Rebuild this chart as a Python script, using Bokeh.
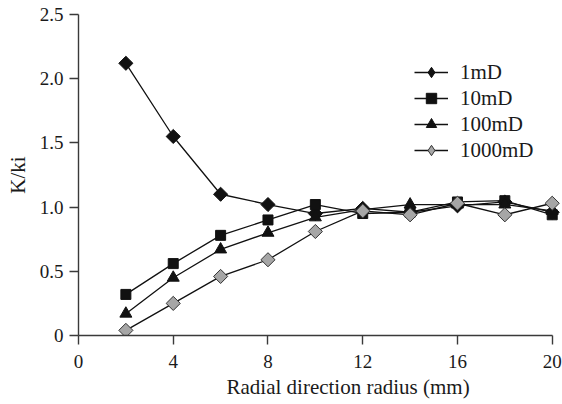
import numpy as np
from bokeh.plotting import figure
from bokeh.models import Range1d, FixedTicker, CustomJSTickFormatter, Legend, LegendItem, Title
from bokeh.embed import file_html
from bokeh.resources import INLINE

radius = [2, 4, 6, 8, 10, 12, 14, 16, 18, 20]
k_1md = [2.12, 1.55, 1.10, 1.02, 0.95, 0.99, 0.96, 1.01, 1.04, 0.96]
k_10md = [0.32, 0.56, 0.78, 0.90, 1.02, 0.95, 0.96, 1.04, 1.05, 0.94]
k_100md = [0.17, 0.45, 0.67, 0.80, 0.92, 0.98, 1.02, 1.02, 1.02, 0.97]
k_1000md = [0.04, 0.25, 0.46, 0.59, 0.81, 0.97, 0.94, 1.03, 0.94, 1.03]
series_names = ["1mD", "10mD", "100mD", "1000mD"]
x_ticks = [0, 4, 8, 12, 16, 20]
y_ticks = [0, 0.5, 1.0, 1.5, 2.0, 2.5]
x_title = "Radial direction radius (mm)"
y_title = "K/ki"

FONT = "Liberation Serif"
TXT = "#1a1a1a"
AX = "#3a3a3a"

p = figure(width=562, height=404, output_backend="svg", toolbar_location=None,
           x_range=Range1d(0, 20.35), y_range=Range1d(0, 2.5),
           min_border_left=78, min_border_right=2, min_border_top=14, min_border_bottom=69)
p.outline_line_color = None
p.xgrid.visible = False
p.ygrid.visible = False

for ax in (p.xaxis[0], p.yaxis[0]):
    ax.major_label_text_font = FONT
    ax.major_label_text_font_size = "19px"
    ax.major_label_text_color = TXT
    ax.axis_line_color = AX
    ax.axis_line_width = 1.4
    ax.major_tick_line_color = AX
    ax.major_tick_line_width = 1.4
    ax.major_tick_out = 9
    ax.major_tick_in = 0
    ax.minor_tick_line_color = None

p.xaxis.ticker = FixedTicker(ticks=x_ticks)
p.yaxis.ticker = FixedTicker(ticks=y_ticks)
p.xaxis.bounds = (0, 20)
p.xaxis.major_label_standoff = 10
p.yaxis.major_label_standoff = 6
p.yaxis.formatter = CustomJSTickFormatter(code="return tick == 0 ? '0' : tick.toFixed(1);")

p.yaxis.axis_label = y_title
p.yaxis.axis_label_text_font = FONT
p.yaxis.axis_label_text_font_size = "21px"
p.yaxis.axis_label_text_font_style = "normal"
p.yaxis.axis_label_text_color = TXT
p.yaxis.axis_label_standoff = 7

xt = Title(text=x_title, align="left", offset=148, text_font=FONT, text_font_size="21px",
           text_font_style="normal", text_color=TXT, standoff=5)
p.add_layout(xt, "below")

data = [k_1md, k_10md, k_100md, k_1000md]
# (plot marker, angle, size, fill, line, legend marker)
styles = [("square", np.pi / 4, 10, "#111111", "#111111", "diamond"),
          ("square", 0, 10, "#111111", "#111111", "square"),
          ("triangle", 0, 12, "#111111", "#111111", "triangle"),
          ("square", np.pi / 4, 10, "#a6a6a6", "#333333", "diamond")]

items = []
for name, ys, (mk, ang, sz, fc, lc, lmk) in zip(series_names, data, styles):
    l = p.line(radius, ys, line_color="#111111", line_width=1.3)
    if lmk != mk:
        # narrow diamond hidden under the rotated square; it provides the legend glyph
        s_leg = p.scatter(radius, ys, marker=lmk, size=12, fill_color=fc,
                          line_color=lc, line_width=1)
    s = p.scatter(radius, ys, marker=mk, angle=ang, size=sz, fill_color=fc,
                  line_color=lc, line_width=1)
    if lmk != mk:
        items.append(LegendItem(label=name, renderers=[l, s_leg]))
    else:
        items.append(LegendItem(label=name, renderers=[l, s]))

legend = Legend(items=items, location=(336, 172))
legend.border_line_color = None
legend.background_fill_alpha = 0
legend.padding = 0
legend.margin = 0
legend.spacing = -1
legend.glyph_height = 26
legend.glyph_width = 34
legend.label_height = 26
legend.label_standoff = 12
legend.label_text_font = FONT
legend.label_text_font_size = "21px"
legend.label_text_color = TXT
p.add_layout(legend)

open("out.html", "w").write(file_html(p, INLINE))
